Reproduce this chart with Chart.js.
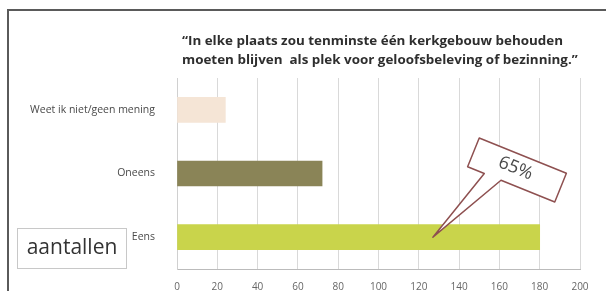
<!DOCTYPE html>
<html>
<head>
<meta charset="utf-8">
<script src="https://cdn.jsdelivr.net/npm/chart.js@4"></script>
<style>
  html, body { margin: 0; padding: 0; background: #fff; }
  canvas { display: block; }
</style>
</head>
<body>
<canvas id="myChart" width="606" height="291"></canvas>
<script>
const categories = ['Weet ik niet/geen mening', 'Oneens', 'Eens'];
const counts = [24, 72, 180];
const barColors = ['#f5e5d6', '#8a8457', '#c9d44b'];
const xTicks = [0, 20, 40, 60, 80, 100, 120, 140, 160, 180, 200];
const titleLines = ['\u201CIn elke plaats zou tenminste \u00E9\u00E9n kerkgebouw behouden',
                    'moeten blijven  als plek voor geloofsbeleving of bezinning.\u201D'];
const calloutText = '65%';
const calloutValue = 127;   // waar de pijl op de Eens-balk wijst
const unitLabel = 'aantallen';

// Titel, kader, "aantallen" en de 65% callout
const extras = {
    id: 'extras',
    afterDraw(chart) {
        const c = chart.ctx;
        c.save();

        // kader links en boven
        c.strokeStyle = '#5a5a5a';
        c.lineWidth = 2;
        c.beginPath();
        c.moveTo(8, 291);
        c.lineTo(8, 10);
        c.lineTo(606, 10);
        c.stroke();

        // titel, iets breder geschaald zoals in het origineel
        c.fillStyle = '#2e2e2e';
        c.font = 'bold 12.5px "Open Sans"';
        c.textAlign = 'left';
        c.textBaseline = 'middle';
        const sx = 381 / c.measureText(titleLines[0]).width;
        c.save();
        c.translate(182, 0);
        c.scale(sx, 1);
        c.fillText(titleLines[0], 0, 41);
        c.fillText(titleLines[1], 0, 60);
        c.restore();

        // "aantallen" kader
        c.strokeStyle = '#c8c8c8';
        c.lineWidth = 1;
        c.fillStyle = '#fff';
        c.fillRect(17.5, 228.5, 109, 40);
        c.strokeRect(17.5, 228.5, 109, 40);
        c.fillStyle = '#333';
        c.font = '21px "Open Sans"';
        c.textAlign = 'center';
        c.fillText(unitLabel, 72, 248);

        // callout met pijl naar de Eens-balk
        const tipX = chart.scales.x.getPixelForValue(calloutValue);
        const tipY = chart.scales.y.getPixelForValue(2);
        const cx = 517, cy = 170, ang = 22 * Math.PI / 180;
        c.translate(cx, cy);
        c.rotate(ang);
        const w = 94, h = 31;
        const dx = tipX - cx, dy = tipY - cy;
        const px = dx * Math.cos(-ang) - dy * Math.sin(-ang);
        const py = dx * Math.sin(-ang) + dy * Math.cos(-ang);
        c.beginPath();
        c.moveTo(-w / 2, -h / 2);
        c.lineTo(w / 2, -h / 2);
        c.lineTo(w / 2, h / 2);
        c.lineTo(-w / 2 + 36, h / 2);
        c.lineTo(px, py);
        c.lineTo(-w / 2 + 18, h / 2);
        c.lineTo(-w / 2, h / 2);
        c.closePath();
        c.fillStyle = '#fff';
        c.fill();
        c.strokeStyle = '#8e5050';
        c.lineWidth = 1.5;
        c.lineJoin = 'round';
        c.stroke();
        c.fillStyle = '#4a4a4a';
        c.font = '18px "Open Sans"';
        c.textAlign = 'center';
        c.textBaseline = 'middle';
        c.fillText(calloutText, -2, -1);

        c.restore();
    }
};

const ctx = document.getElementById('myChart').getContext('2d');
const myChart = new Chart(ctx, {
    type: 'bar',
    data: {
        labels: categories,
        datasets: [{
            data: counts,
            backgroundColor: barColors,
            borderWidth: 0,
            barThickness: 25
        }]
    },
    options: {
        responsive: false,
        animation: false,
        indexAxis: 'y',
        layout: {
            padding: { top: 78, right: 26, left: 0, bottom: 0 }
        },
        plugins: {
            legend: { display: false },
            tooltip: { enabled: false }
        },
        scales: {
            x: {
                min: 0,
                max: 200,
                afterBuildTicks(scale) {
                    scale.ticks = xTicks.map(v => ({ value: v }));
                },
                afterFit(scale) { scale.height = 22; },
                grid: { color: '#d9d9d9', drawTicks: false },
                border: { color: '#bbbbbb' },
                ticks: {
                    color: '#666',
                    padding: 12,
                    font: { family: 'Open Sans', size: 10 }
                }
            },
            y: {
                afterFit(scale) { scale.width = 177; },
                grid: { display: false },
                border: { color: '#d0d0d0' },
                ticks: {
                    color: '#4a4a4a',
                    padding: 14,
                    font: { family: 'Open Sans', size: 10.5 }
                }
            }
        }
    },
    plugins: [extras]
});
</script>
</body>
</html>
